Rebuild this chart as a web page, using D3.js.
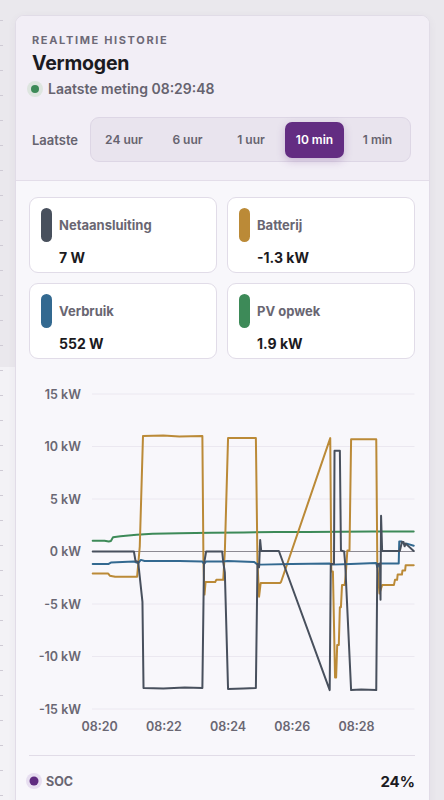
<!DOCTYPE html>
<html><head><meta charset="utf-8">
<script src="https://cdn.jsdelivr.net/npm/d3@7"></script>
<style>
html,body{margin:0;padding:0;}
body{width:444px;height:800px;overflow:hidden;background:#eae8ed;font-family:Inter,"Noto Sans",sans-serif;position:relative;}
.abs{position:absolute;}
</style></head>
<body>
<script>
// ---------- DATA ----------
const timeRange = ["08:19:48", "08:29:48"];
const yTicks = [-15, -10, -5, 0, 5, 10, 15];
const ranges = ["24 uur", "6 uur", "1 uur", "10 min", "1 min"];
const selectedRange = "10 min";
const cardNames = ["Netaansluiting", "Batterij", "Verbruik", "PV opwek"];
const cardValues = ["7 W", "-1.3 kW", "552 W", "1.9 kW"];
const lastMeasurement = "08:29:48";
const socValue = "24%";

const gridTimes = ["08:19:48","08:21:05","08:21:08","08:21:13","08:21:21","08:21:23","08:22:00","08:22:40","08:23:13","08:23:16","08:23:20","08:23:50","08:23:52","08:23:55","08:24:01","08:24:30","08:24:53","08:24:56","08:24:59","08:25:01","08:25:03","08:25:36","08:27:11","08:27:13","08:27:19","08:27:20","08:27:30","08:27:32","08:27:38","08:27:40","08:27:51","08:28:10","08:28:38","08:28:40","08:28:45","08:28:46","08:28:47","08:28:49","08:29:22","08:29:26","08:29:29","08:29:31","08:29:33","08:29:48"];
const gridValues = [0.0,0.0,-0.9,-1.0,-4.8,-13.0,-13.05,-12.95,-13.0,-1.2,0.0,0.0,-1.0,-2.0,-13.1,-13.05,-13.0,-1.2,-1.5,1.1,0.05,0.05,-13.2,-1.2,-1.2,9.6,9.6,0.1,0.0,-1.2,-13.2,-13.15,-13.2,-1.2,-1.2,-4.6,3.4,0.05,0.05,0.9,0.9,0.5,0.75,0.05];

const batTimes = ["08:19:48","08:20:17","08:20:20","08:20:30","08:21:11","08:21:13","08:21:16","08:21:22","08:22:00","08:22:30","08:23:13","08:23:15","08:23:17","08:23:19","08:23:37","08:23:39","08:23:52","08:23:55","08:24:01","08:24:53","08:24:56","08:24:59","08:25:02","08:25:38","08:25:40","08:27:12","08:27:14","08:27:17","08:27:21","08:27:23","08:27:25","08:27:28","08:27:30","08:27:32","08:27:34","08:27:39","08:27:41","08:27:44","08:27:48","08:27:51","08:28:38","08:28:40","08:28:44","08:28:49","08:29:11","08:29:13","08:29:17","08:29:18","08:29:26","08:29:27","08:29:32","08:29:33","08:29:48"];
const batValues = [-2.1,-2.1,-2.3,-2.4,-2.4,-1.3,0.5,11.0,11.05,10.95,11.0,-1.0,-4.1,-2.9,-2.9,-2.7,-2.7,0.0,10.8,10.8,-1.0,-4.3,-3.0,-3.0,-2.9,10.8,-1.9,-1.9,-12.0,-12.0,-8.9,-8.9,-5.3,-5.3,-3.2,-3.2,-2.2,0.1,0.1,10.7,10.7,-1.2,-4.0,-3.2,-3.2,-2.7,-2.7,-2.2,-2.2,-1.8,-1.8,-1.3,-1.3];

const useTimes = ["08:19:48","08:20:17","08:20:22","08:21:05","08:21:13","08:21:18","08:21:25","08:22:30","08:23:13","08:23:16","08:23:20","08:23:52","08:24:00","08:24:50","08:24:55","08:25:02","08:26:00","08:27:11","08:27:15","08:27:50","08:28:38","08:28:40","08:28:44","08:29:20","08:29:21","08:29:26","08:29:30","08:29:35","08:29:48"];
const useValues = [-1.2,-1.2,-1.05,-0.95,-1.1,-0.8,-0.9,-0.9,-0.95,-1.2,-0.95,-0.95,-0.9,-1.0,-1.2,-1.25,-1.2,-1.15,-1.25,-1.2,-1.1,-1.5,-1.15,-1.15,0.95,0.95,0.7,0.75,0.55];

const pvTimes = ["08:19:48","08:20:10","08:20:18","08:20:22","08:20:26","08:20:40","08:21:10","08:21:40","08:22:30","08:23:30","08:24:30","08:25:30","08:26:30","08:27:30","08:28:30","08:29:48"];
const pvValues = [1.03,1.02,0.95,1.0,1.35,1.45,1.6,1.68,1.74,1.78,1.82,1.85,1.86,1.88,1.9,1.9];

const colors = {grid:"#48505d", bat:"#bb8a37", use:"#336990", pv:"#3d8a58"};
const cardColors = [colors.grid, colors.bat, colors.use, colors.pv];

// ---------- LAYOUT ----------
const body = d3.select("body");
body.append("div").attr("class","abs").style("left","0px").style("top","367px").style("width","15px").style("height","433px").style("background","#f3f2f6");
for (let yy = 20; yy < 800; yy += 25) {
  body.append("div").attr("class","abs").style("left","0px").style("top", yy+"px").style("width","3px").style("height","1px").style("background","#cfcbd5");
}
const card = body.append("div").attr("class","abs")
  .style("left","15px").style("top","15px").style("width","413px").style("height","800px")
  .style("background","#f8f7fb").style("border","1px solid #e1dce7").style("border-radius","9px")
  .style("box-shadow","0 2px 8px rgba(80,60,110,0.06)").style("overflow","hidden");
card.append("div").attr("class","abs").style("left","0px").style("top","0px").style("width","413px").style("height","164px")
  .style("background","#f2eef6").style("border-bottom","1px solid #e3dde9");

function txt(x, y, s, size, weight, color, extra) {
  const d = body.append("div").attr("class","abs").text(s)
    .style("left", x+"px").style("top", y+"px").style("font-size", size+"px")
    .style("font-weight", weight).style("color", color).style("white-space","nowrap").style("line-height","1");
  if (extra) Object.entries(extra).forEach(([k,v]) => d.style(k, v));
  return d;
}
txt(32, 35, "REALTIME HISTORIE", 11, 700, "#6d6977", {"letter-spacing":"1.65px"});
txt(32, 54, "Vermogen", 19.5, 700, "#1b1a21", {"letter-spacing":"-0.2px"});
body.append("div").attr("class","abs").style("left","27px").style("top","81px").style("width","16px").style("height","16px").style("border-radius","50%").style("background","#dde5df");
body.append("div").attr("class","abs").style("left","31px").style("top","85px").style("width","8px").style("height","8px").style("border-radius","50%").style("background","#3d8a58");
txt(48, 82, "Laatste meting " + lastMeasurement, 14, 600, "#66636f");

txt(32, 134, "Laatste", 13, 600, "#66636f");
body.append("div").attr("class","abs").style("left","90px").style("top","117px").style("width","321px").style("height","45px")
  .style("background","#e9e4ee").style("border","1px solid #ddd6e5").style("border-radius","9px").style("box-sizing","border-box");
const segCenters = [124, 187.5, 251, 314.5, 377.5];
ranges.forEach((r, i) => {
  const sel = r === selectedRange;
  if (sel) {
    body.append("div").attr("class","abs").style("left","285px").style("top","122px").style("width","59px").style("height","36px")
      .style("background","#632d82").style("border-radius","7px").style("box-shadow","0 3px 8px rgba(99,45,130,0.25)");
  }
  txt(segCenters[i]-40, 134, r, 12, 600, sel ? "#ffffff" : "#66636f", {"width":"80px","text-align":"center"});
});

const cardPos = [[29,197],[227,197],[29,283],[227,283]];
cardNames.forEach((n, i) => {
  const [cx, cy] = cardPos[i];
  body.append("div").attr("class","abs").style("left",cx+"px").style("top",cy+"px").style("width","188px").style("height","76px")
    .style("background","#ffffff").style("border","1px solid #e1dce8").style("border-radius","9px").style("box-sizing","border-box");
  body.append("div").attr("class","abs").style("left",(cx+12)+"px").style("top",(cy+11)+"px").style("width","11px").style("height","34px")
    .style("background",cardColors[i]).style("border-radius","6px");
  txt(cx+30, cy+22, n, 13, 700, "#696672");
  txt(cx+30, cy+54, cardValues[i], 14, 700, "#1b1a21");
});

// ---------- CHART ----------
const svg = body.append("svg").attr("class","abs").style("left","0px").style("top","0px")
  .attr("width",444).attr("height",800);
const parse = d3.timeParse("%H:%M:%S");
const x = d3.scaleTime().domain(timeRange.map(parse)).range([92.7, 413.7]);
const y = d3.scaleLinear().domain([-15, 15]).range([709, 394]);

svg.append("g").selectAll("line").data(yTicks).join("line")
  .attr("x1", 92).attr("x2", 414.5).attr("y1", d => y(d)).attr("y2", d => y(d))
  .attr("stroke", d => d === 0 ? "#8d8a93" : "#ebe8f0").attr("stroke-width", d => d === 0 ? 1.1 : 1);

const yAxis = d3.axisLeft(y).tickValues(yTicks).tickSize(0).tickPadding(0).tickFormat(d => d + " kW");
const ya = svg.append("g").attr("transform","translate(81,0)").call(yAxis);
ya.select(".domain").remove();
ya.selectAll("text").attr("font-family","Inter, sans-serif").attr("font-size",12.5).attr("font-weight",600).attr("fill","#6a6773");

const xAxis = d3.axisBottom(x).ticks(d3.timeMinute.every(2)).tickSize(0).tickPadding(0).tickFormat(d3.timeFormat("%H:%M"));
const xa = svg.append("g").attr("transform","translate(0,722)").call(xAxis);
xa.select(".domain").remove();
xa.selectAll("text").attr("font-family","Inter, sans-serif").attr("font-size",12.5).attr("font-weight",600).attr("fill","#6a6773");

const line = d3.line().x(d => x(d[0])).y(d => y(d[1]));
function series(times, vals, color) {
  const pts = times.map((t, i) => [parse(t), vals[i]]);
  svg.append("path").datum(pts).attr("d", line).attr("fill","none").attr("stroke", color)
    .attr("stroke-width", 2).attr("stroke-linejoin","round").attr("stroke-linecap","round");
}
series(pvTimes, pvValues, colors.pv);
series(batTimes, batValues, colors.bat);
series(useTimes, useValues, colors.use);
series(gridTimes, gridValues, colors.grid);

svg.append("line").attr("x1",29).attr("x2",415).attr("y1",755.5).attr("y2",755.5).attr("stroke","#e1dce7").attr("stroke-width",1);
svg.append("circle").attr("cx",34).attr("cy",781).attr("r",8).attr("fill","#e7def0");
svg.append("circle").attr("cx",34).attr("cy",781).attr("r",4.5).attr("fill","#5f2b80");
svg.append("text").attr("x",46).attr("y",786).text("SOC").attr("font-family","Inter, sans-serif").attr("font-size",12.5).attr("font-weight",700).attr("fill","#696672");
svg.append("text").attr("x",415).attr("y",787).attr("text-anchor","end").text(socValue).attr("font-family","Inter, sans-serif").attr("font-size",15).attr("font-weight",700).attr("fill","#1b1a21");
</script>
</body></html>
